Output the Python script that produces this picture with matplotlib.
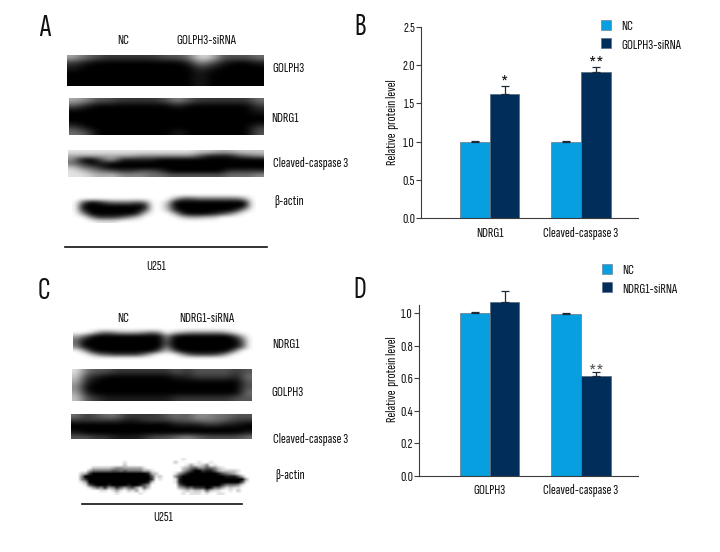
import numpy as np
import matplotlib
matplotlib.use("Agg")
import matplotlib.pyplot as plt
from matplotlib.patches import Patch

plt.rcParams['font.family'] = ['Sofia Sans Extra Condensed', 'PT Sans Narrow', 'Liberation Sans', 'DejaVu Sans']

# bar values
groups_b = ["NDRG1", "Cleaved-caspase 3"]
nc_b = [1.0, 1.0]
nc_err_b = [0.01, 0.01]
si_b = [1.62, 1.904]
si_err_b = [0.106, 0.068]
marks_b = ["*", "**"]
ticks_b = [0.0, 0.5, 1.0, 1.5, 2.0, 2.5]

groups_d = ["GOLPH3", "Cleaved-caspase 3"]
nc_d = [1.0, 0.994]
nc_err_d = [0.01, 0.006]
si_d = [1.068, 0.615]
si_err_d = [0.069, 0.025]
ticks_d = [0.0, 0.2, 0.4, 0.6, 0.8, 1.0]

# western blots as coarse gray grids, 0 = black, 9 = white
blot_a_golph3 = [
    "64322222334873334",
    "21000000001531001",
    "10000000000210000",
    "00000000000100000",
    "00000000000100000",
    "00000000000100000",
]
blot_a_ndrg1 = [
    "65332222353222224",
    "31000000010000002",
    "00000000000000001",
    "00000000000000000",
    "00000000000000000",
    "20000000000000002",
    "43000000010000003",
]
blot_a_casp = [
    "88888888888887766777",
    "66666665555553111345",
    "50036111100000000000",
    "42010000000000000000",
    "74310000000000000000",
    "87543223320000002222",
    "88767555443333334445",
]
blot_a_actin = [
    "9 9 9 9 9 9 9 9 9 9 9 9 9 9 9 9 9 9 9 9 9 9 9 9",
    "9 9 9 9 9 9 9 9 9 9 9 9 9 6 3 3 4 4 4 4 4 4 6 9",
    "9 3 0 1 3 4 4 4 3 4 9 9 7 0 0 0 0 0 0 0 0 0 0 9",
    "9 0 0 0 0 0 0 0 0 0 9 9 6 0 0 0 0 0 0 0 0 0 0 9",
    "9 1 0 0 0 0 0 0 0 2 9 9 7 1 0 0 0 0 0 0 0 1 6 9",
    "9 5 0 0 0 0 0 0 1 7 9 9 9 6 1 0 0 0 1 2 4 7 9 9",
    "9 9 5 2 2 2 3 5 7 9 9 9 9 9 7 6 6 7 7 9 9 9 9 9",
    "9 9 9 8 8 8 9 9 9 9 9 9 9 9 9 9 9 9 9 9 9 9 9 9",
]
blot_c_ndrg1 = [
    "9 9 9 9 9 9 9 9 9 9 9 9 9 9 9 9 9 9 9 9 9 9 9 9",
    "9 9 8 5 4 5 6 6 6 5 4 5 9 7 6 5 5 5 5 5 6 8 9 9",
    "6 4 1 0 0 0 0 0 0 0 0 0 5 1 0 0 0 0 0 0 0 2 6 9",
    "4 1 0 0 0 0 0 0 0 0 0 0 4 0 0 0 0 0 0 0 0 0 3 9",
    "4 0 0 0 0 0 0 0 0 0 0 0 3 0 0 0 0 0 0 0 0 0 2 9",
    "5 1 0 0 0 0 0 0 0 0 0 0 5 0 0 0 0 0 0 0 0 0 3 9",
    "9 6 1 0 0 0 0 0 0 0 0 3 7 3 0 0 0 0 0 0 0 4 9 9",
    "9 9 7 4 3 2 2 2 2 4 7 9 9 9 6 3 2 2 2 3 6 9 9 9",
    "9 9 9 9 9 9 9 9 9 9 9 9 9 9 9 9 9 9 9 9 9 9 9 9",
]
blot_c_golph3 = [
    "843322222232333323",
    "721000000011222214",
    "610000000000000003",
    "500000000000000003",
    "610000000000000004",
    "732111111122222233",
]
blot_c_casp = [
    "423442222343554433",
    "222221122233444322",
    "000000000011122110",
    "000000000000000000",
    "100000000000000001",
    "332211123345433334",
]
blot_c_actin = [
    "9999999999 9999999999 9999999989 9999999999 9999999",
    "9999999999 9998999999 9999997999 9989989999 9999999",
    "9999999999 9997999999 9999999998 6887598999 9999999",
    "9999977777 6556666689 9999999976 4355345789 9999999",
    "9999644444 3343444466 8999999964 2002113677 7789999",
    "9976200000 0000000001 6799998531 0000000134 5689999",
    "9950000000 0000000000 3879995200 0000000001 1136999",
    "9952000000 0000000000 2989998100 0000000000 0000699",
    "9986000000 0000000001 7999998100 0000000000 0003899",
    "9998310001 0000100135 9999999310 0000000024 4458999",
    "9999864526 5246436847 9999999653 4222014468 7889999",
    "9999999889 8689786989 9999999987 8778478899 8979999",
    "9999999999 9899999899 9999999989 8889899889 9999999",
]

W, H = 720, 552
LIGHT = "#079fe0"
DARK = "#012d5a"
AXC = "#3c3c3c"
TXT = "#111111"
FS = 10.6

fig = plt.figure(figsize=(W / 100, H / 100), dpi=100)

# whole figure axes in pixels, for the blots and their labels
page = fig.add_axes([0, 0, 1, 1])
page.axis("off")


def draw_blot(rows, x0, x1, y0, y1, interp="bicubic"):
    grid = np.array([[int(c) for c in r.replace(" ", "")] for r in rows])
    page.imshow(grid, cmap="gray", vmin=0, vmax=9, extent=(x0, x1, y1, y0),
                interpolation=interp, aspect="auto")


draw_blot(blot_a_golph3, 67, 264, 55, 86)
draw_blot(blot_a_ndrg1, 69, 264, 98, 135)
draw_blot(blot_a_casp, 68, 264, 150, 177)
draw_blot(blot_a_actin, 72, 256, 193, 223)
draw_blot(blot_c_ndrg1, 73, 253, 327, 360)
draw_blot(blot_c_golph3, 72, 252, 369, 401)
draw_blot(blot_c_casp, 71, 252, 414, 439)
draw_blot(blot_c_actin, 72, 256, 458, 495, "bilinear")
page.set_xlim(0, W)
page.set_ylim(H, 0)


def label(x, y, s, ha="left", size=FS, color=TXT, rot=0):
    page.text(x, y, s, ha=ha, va="center", fontsize=size, color=color, rotation=rot)


for x, y, s in [(45, 28, "A"), (360, 27, "B"), (44, 291, "C"), (360, 290, "D")]:
    label(x, y, s, ha="center", size=23, color="#111111")

label(122.7, 40, "NC", ha="center")
label(206.7, 40, "GOLPH3-siRNA", ha="center")
label(272.7, 68, "GOLPH3")
label(271.7, 118, "NDRG1")
label(273, 163, "Cleaved-caspase 3")
label(274, 201, "β-actin")
page.plot([65, 267], [247, 247], color="#111111", lw=1.2)
label(155.7, 266, "U251", ha="center")

label(122.7, 318, "NC", ha="center")
label(206.7, 318, "NDRG1-siRNA", ha="center")
label(272.7, 344, "NDRG1")
label(271.7, 393, "GOLPH3")
label(273, 439, "Cleaved-caspase 3")
label(275, 476, "β-actin")
page.plot([81.7, 241.7], [504, 504], color="#111111", lw=1.2)
label(162.7, 517.7, "U251", ha="center")

label(392.7, 121.7, "Relative  protein level", ha="center", rot=90)
label(392.7, 379.3, "Relative  protein level", ha="center", rot=90)

# asterisks over the bars
label(504.7, 85, marks_b[0], ha="center", size=17)
label(596.5, 66, marks_b[1], ha="center", size=17)
label(596.5, 374, "**", ha="center", size=17, color="#555555")


def bar_panel(left, right, top, bottom, ymax, ticks, groups, nc, nc_err, si, si_err, fmt="%.1f"):
    ax = fig.add_axes([left / W, 1 - bottom / H, (right - left) / W, (bottom - top) / H])
    ax.patch.set_alpha(0)
    x = np.arange(len(groups))
    w = 29.7 / 91.3
    ebar = dict(ecolor="#1d2b3a", elinewidth=0.9, capsize=2.6, capthick=0.9)
    ax.bar(x - w / 2, nc, w, color=LIGHT, edgecolor="#6f8496", linewidth=0.6, clip_on=False)
    ax.bar(x + w / 2, si, w, color=DARK, edgecolor="#5c7083", linewidth=0.6, clip_on=False)
    for xs, vals, errs in [(x - w / 2, nc, nc_err), (x + w / 2, si, si_err)]:
        _, caps, bars = ax.errorbar(xs, vals, yerr=[np.zeros(len(errs)), errs], fmt="none", **ebar)
        for art in list(caps) + list(bars):
            art.set_clip_on(False)
    ax.set_xlim((left - 489.7) / 91.3, (right - 489.7) / 91.3)
    ax.set_ylim(0, ymax)
    ax.set_xticks(x)
    ax.set_xticklabels(groups, fontsize=FS, color=TXT)
    ax.tick_params(axis="x", length=0, pad=6)
    ax.set_yticks(ticks)
    ax.set_yticklabels([fmt % t for t in ticks], fontsize=FS, color=TXT)
    ax.tick_params(axis="y", length=3.6, width=0.8, color=AXC, pad=0.8)
    for s in ["top", "right"]:
        ax.spines[s].set_visible(False)
    for s in ["left", "bottom"]:
        ax.spines[s].set_color(AXC)
        ax.spines[s].set_linewidth(0.8)
    return ax


ax_b = bar_panel(421, 638, 26.7, 218.3, 2.5, ticks_b, groups_b, nc_b, nc_err_b, si_b, si_err_b)
ax_d = bar_panel(419, 638, 305, 476, 1.051, ticks_d, groups_d, nc_d, nc_err_d, si_d, si_err_d)


def add_legend(ax, x, y, name):
    handles = [Patch(facecolor=LIGHT, edgecolor="#6f8496", linewidth=0.5, label="NC"),
               Patch(facecolor=DARK, edgecolor="#5c7083", linewidth=0.5, label=name)]
    ax.legend(handles=handles, loc="upper left", bbox_to_anchor=(x / W, 1 - y / H),
              bbox_transform=fig.transFigure, frameon=False, fontsize=FS, borderpad=0,
              borderaxespad=0, handlelength=0.68, handleheight=0.68, handletextpad=0.7,
              labelspacing=0.35, labelcolor=TXT)


add_legend(ax_b, 601, 20, "GOLPH3-siRNA")
add_legend(ax_d, 602, 264, "NDRG1-siRNA")

fig.savefig("out.png", dpi=100)
